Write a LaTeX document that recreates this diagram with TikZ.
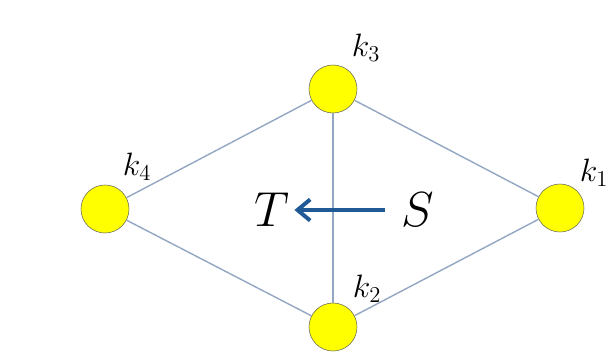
\RequirePackage{fix-cm}
\documentclass[tikz,border=0pt]{standalone}
\usepackage{amsmath}
\usepackage{xcolor}
\usepackage{tikz}
\usetikzlibrary{arrows.meta}
\definecolor{NodeYellow}{HTML}{FFFF00}
\definecolor{NodeRim}{HTML}{6E6E5A}
\definecolor{EdgeGray}{HTML}{93A6C2}
\definecolor{ArrowBlue}{HTML}{1F5A96}

\begin{document}
\begin{tikzpicture}[
      x=0.025cm, y=-0.025cm,
      vertex/.style = {circle, draw=NodeRim, fill=NodeYellow, thin,
        minimum size=1.2cm, inner sep=0pt},
      edge/.style = {draw=EdgeGray, line width=1pt},
      klabel/.style = {font=\fontsize{23}{27}\selectfont},
      biglabel/.style = {font=\fontsize{35}{40}\selectfont},
      arrow/.style = {line width=2.8pt, draw=ArrowBlue,
        -{Straight Barb[length=9pt, width=15pt]}}
    ]
    \useasboundingbox (0,0) rectangle (616,355);
    \node (K3) [vertex] at (333,89) {};
    \node (K4) [vertex] at (105,209) {};
    \node (K1) [vertex] at (560,208) {};
    \node (K2) [vertex] at (333,327) {};
    \node (L3) [klabel] at (366,48) {$k_3$};
    \node (L4) [klabel] at (137,167) {$k_4$};
    \node (L1) [klabel] at (594,173) {$k_1$};
    \node (L2) [klabel] at (367,289) {$k_2$};
    \node (T) [biglabel] at (272,210) {$T$};
    \node (S) [biglabel] at (418,210) {$S$};
    \draw [edge] (K4) -- (K3);
    \draw [edge] (K3) -- (K1);
    \draw [edge] (K4) -- (K2);
    \draw [edge] (K2) -- (K1);
    \draw [edge] (K3) -- (K2);
    \draw [arrow] (S.west) ++(-12,0) coordinate (Sa) -- (T.east);
  \end{tikzpicture}
\end{document}
